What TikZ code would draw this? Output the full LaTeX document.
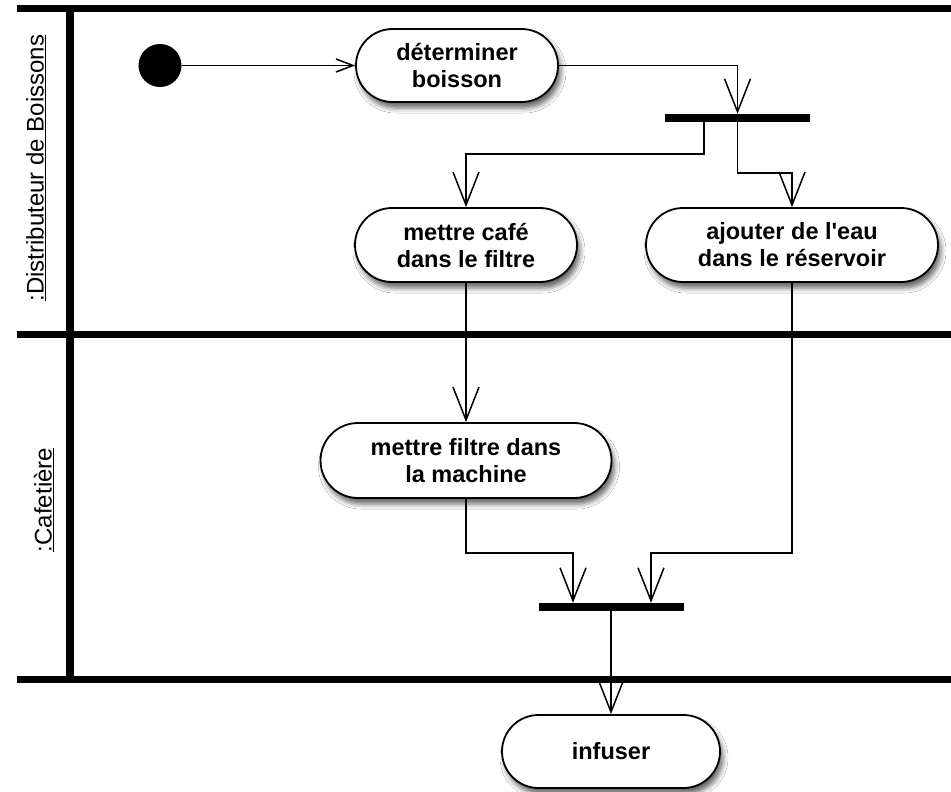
\documentclass[tikz,border=0pt]{standalone}
\usepackage{fontspec}
\setmainfont{Liberation Sans}[Ligatures=TeXOff]
\usetikzlibrary{arrows.meta,shapes.misc,shadows.blur}
\begin{document}
\begin{tikzpicture}[x=1pt,y=-1pt,
  act/.style={rounded rectangle, draw, line width=1.8pt, fill=white, align=center,
    font=\bfseries\fontsize{23.5}{27}\selectfont, inner sep=0pt,
    blur shadow={shadow xshift=3pt, shadow yshift=-6pt, shadow blur radius=5pt, shadow opacity=60}},
  barnode/.style={fill=black, draw=none, inner sep=0pt, minimum width=145pt, minimum height=8pt},
  flow/.style={line width=1.5pt, -{Straight Barb[length=33pt,width=26pt,line width=1.5pt]}},
  smallflow/.style={line width=1.5pt, -{Straight Barb[length=17pt,width=13pt,line width=1.5pt]}},
  lane/.style={line width=7pt},
  lanelabel/.style={rotate=90, font=\fontsize{24}{28}\selectfont, inner sep=0pt}]
\useasboundingbox (0,0) rectangle (951,792);
\fill[white] (0,0) rectangle (951,792);

% swimlanes
\draw[lane] (17,9) -- (951,9);
\draw[lane] (17,334) -- (951,334);
\draw[lane] (17,679) -- (951,679);
\draw[line width=8pt] (70,5.5) -- (70,682.5);
\node[lanelabel] (lane1) at (36,168) {\underline{:Distributeur de Boissons}};
\node[lanelabel] (lane2) at (44,500) {\underline{:Cafetière}};

% nodes
\node[circle, fill=black, minimum size=43pt, inner sep=0pt] (init) at (160,65.5) {};
\node[act, minimum width=202pt, minimum height=73pt] (det) at (457,65.5) {déterminer\\boisson};
\node[barnode] (fork) at (737.5,118) {};
\node[act, minimum width=222pt, minimum height=74pt] (cafe) at (466,245) {mettre café\\dans le filtre};
\node[act, minimum width=292pt, minimum height=74pt] (eau) at (792,245) {ajouter de l'eau\\dans le réservoir};
\node[act, minimum width=291pt, minimum height=75pt] (filtre) at (466,460.5) {mettre filtre dans\\la machine};
\node[barnode] (join) at (611,607) {};
\node[act, minimum width=218pt, minimum height=73pt] (inf) at (611,751.5) {infuser};

\coordinate (m1) at (466,553);
\coordinate (m2) at (792,553);

% connectors
\draw[smallflow] (init) -- (det);
\draw[flow] (det.east) -| (fork.north);
\draw[flow] ([xshift=-33.5pt]fork.south) -- ++(0,32) -| (cafe.north);
\draw[flow] (fork.south) -- ++(0,51) -| (eau.north);
\draw[flow] (cafe.south) -- (filtre.north);
\draw[flow] (filtre.south) -- (m1) -| ([xshift=-38pt]join.north);
\draw[flow] (eau.south) -- (m2) -| ([xshift=40pt]join.north);
\draw[flow] (join.south) -- (inf.north);
\end{tikzpicture}
\end{document}
